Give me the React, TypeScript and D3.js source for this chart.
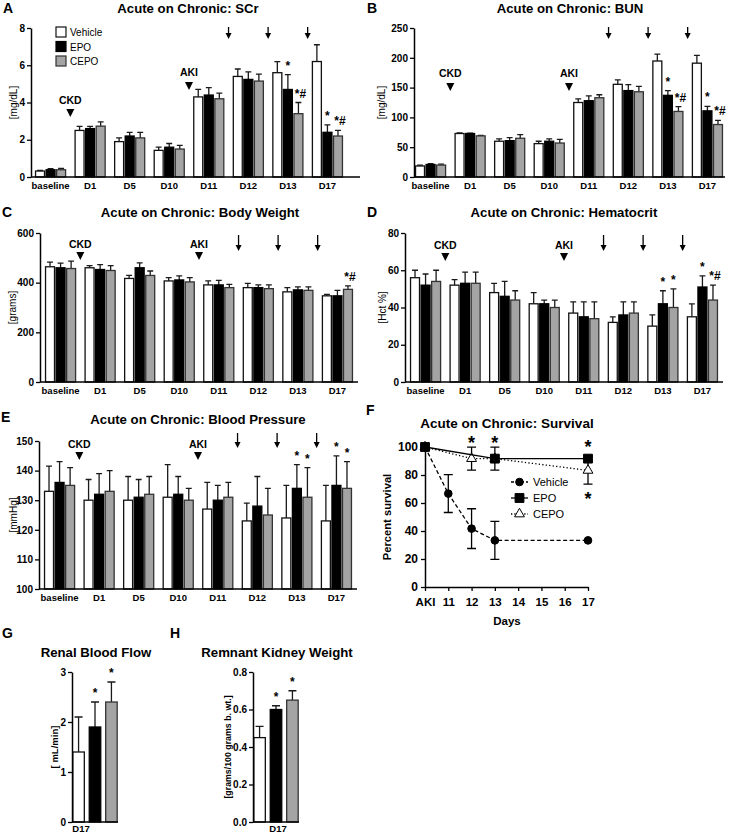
import { useEffect, useRef } from "react";
import * as d3 from "d3";

const FONT = "'Liberation Sans', Arial, Helvetica, sans-serif";

const groups = ["baseline", "D1", "D5", "D10", "D11", "D12", "D13", "D17"];
const treatments = ["Vehicle", "EPO", "CEPO"];
const fills = ["#ffffff", "#000000", "#a4a4a4"];
const strokes = ["#111111", "#000000", "#333333"];

// CKD / AKI markers sit after these group indices, the arrows too
const phaseLabels = ["CKD", "AKI"];
const phaseAfter = [0, 3];
const arrowAfter = [4, 5, 6];

// A: serum creatinine [mg/dL], mean and SEM
const scrVehicle = [0.32, 2.5, 1.9, 1.43, 4.3, 5.4, 5.6, 6.2];
const scrEpo = [0.39, 2.6, 2.2, 1.6, 4.4, 5.24, 4.7, 2.4];
const scrCepo = [0.39, 2.73, 2.1, 1.5, 4.2, 5.15, 3.4, 2.2];
const scrVehicleSem = [0.04, 0.22, 0.2, 0.17, 0.4, 0.4, 0.6, 0.9];
const scrEpoSem = [0.06, 0.12, 0.2, 0.2, 0.4, 0.4, 0.8, 0.4];
const scrCepoSem = [0.07, 0.23, 0.3, 0.2, 0.3, 0.37, 0.6, 0.3];
const scrTicks = [0, 2, 4, 6, 8];
const scrMarks = [["D13", "EPO", "*"], ["D13", "CEPO", "*#"], ["D17", "EPO", "*"], ["D17", "CEPO", "*#"]];

// B: BUN [mg/dL]
const bunVehicle = [18.5, 73, 60, 56, 125, 155.5, 194.6, 191];
const bunEpo = [21, 73, 61, 60, 128, 145, 137, 111];
const bunCepo = [20, 69, 65, 57, 133, 143, 110, 88];
const bunVehicleSem = [1.5, 1, 4, 4, 6, 7.5, 11.5, 13];
const bunEpoSem = [1.5, 0.5, 5, 4, 8, 10, 8, 7.6];
const bunCepoSem = [1.5, 1, 6, 6, 5, 9, 8, 7];
const bunTicks = [0, 50, 100, 150, 200, 250];
const bunMarks = [["D13", "EPO", "*"], ["D13", "CEPO", "*#"], ["D17", "EPO", "*"], ["D17", "CEPO", "*#"]];

// C: body weight [grams]
const bwVehicle = [464, 460, 417, 407, 391, 380, 363, 347];
const bwEpo = [460, 453, 460, 411, 391, 380, 371, 347];
const bwCepo = [457, 449, 429, 403, 380, 376, 369, 373];
const bwVehicleSem = [19, 9, 12, 13, 16, 17, 17, 6];
const bwEpoSem = [19, 20, 20, 16, 18, 11, 12, 22];
const bwCepoSem = [30, 20, 18, 17, 13, 15, 14, 14];
const bwTicks = [0, 200, 400, 600];
const bwMarks = [["D17", "CEPO", "*#"]];

// D: hematocrit [Hct %]
const hctVehicle = [56, 52, 48, 42, 37, 32, 30, 35];
const hctEpo = [52, 53, 46, 42, 35, 36, 42, 51];
const hctCepo = [54, 53, 44, 40, 34, 37, 40, 44];
const hctVehicleSem = [4, 3, 5, 6, 6, 3, 6, 7];
const hctEpoSem = [6, 6, 8, 2, 8, 7, 7, 6];
const hctCepoSem = [6, 6, 5, 4, 9, 6, 10, 8];
const hctTicks = [0, 20, 40, 60, 80];
const hctMarks = [["D13", "EPO", "*"], ["D13", "CEPO", "*"], ["D17", "EPO", "*"], ["D17", "CEPO", "*#"]];

// E: blood pressure [mmHg]
const bpVehicle = [133, 130, 130, 131, 127, 123, 124, 123];
const bpEpo = [136, 132, 131, 132, 130, 128, 134, 135];
const bpCepo = [135, 133, 132, 130, 131, 125, 131, 134];
const bpVehicleSem = [8.5, 7, 8, 11, 9, 6, 11, 12];
const bpEpoSem = [7, 7, 6, 6, 5, 10, 8, 10];
const bpCepoSem = [6, 7, 6, 4, 5, 9, 10, 9];
const bpTicks = [100, 110, 120, 130, 140, 150];
const bpMarks = [["D13", "EPO", "*"], ["D13", "CEPO", "*"], ["D17", "EPO", "*"], ["D17", "CEPO", "*"]];

// F: survival [%]
const survVehicleDay = [10, 11, 12, 13, 17];
const survVehicle = [100, 66.7, 41.7, 33.3, 33.3];
const survVehicleSem = [0, 13.5, 14.2, 13.6, 0];
const survEpoDay = [10, 13, 17];
const survEpo = [100, 91.7, 91.7];
const survEpoSem = [0, 8.2, 0];
const survCepoDay = [10, 12, 13, 17];
const survCepo = [100, 91.7, 91.7, 83.3];
const survCepoSem = [0, 8.2, 0, 9.8];
const survDayTicks = [10, 11, 12, 13, 14, 15, 16, 17];
const survTicks = [0, 20, 40, 60, 80, 100];
const survStarDay = [12, 13, 17, 17];
const survStarLevel = [106, 106, 103, 66];

// G, H: day 17 only
const rbf = [1.4, 1.9, 2.4];
const rbfSem = [0.7, 0.5, 0.4];
const rbfTicks = [0, 1, 2, 3];
const rkw = [0.45, 0.6, 0.65];
const rkwSem = [0.06, 0.02, 0.05];
const rkwTicks = [0, 0.2, 0.4, 0.6, 0.8];
const d17Marks = ["EPO", "CEPO"];

interface BarPanel {
  letter: string;
  letterPos: [number, number];
  title: string;
  titlePos: [number, number];
  yLabel: string;
  yLabelX: number;
  x0: number;
  axisEnd: number;
  band: [number, number];
  yTop: number;
  yBottom: number;
  domain: [number, number];
  ticks: number[];
  means: number[][];
  sems: number[][];
  marks: string[][];
  phaseTextY: number[];
  phaseTriY: number[];
  arrowY: [number, number];
  legend?: [number, number];
}

const barPanels: BarPanel[] = [
  {
    letter: "A", letterPos: [3, 13], title: "Acute on Chronic: SCr", titlePos: [188, 13],
    yLabel: "[mg/dL]", yLabelX: 17, x0: 31, axisEnd: 360, band: [30, 348], yTop: 28, yBottom: 177,
    domain: [0, 8], ticks: scrTicks,
    means: [scrVehicle, scrEpo, scrCepo], sems: [scrVehicleSem, scrEpoSem, scrCepoSem],
    marks: scrMarks, phaseTextY: [104, 76], phaseTriY: [109, 82], arrowY: [27, 38], legend: [56, 27],
  },
  {
    letter: "B", letterPos: [367, 13], title: "Acute on Chronic: BUN", titlePos: [570, 13],
    yLabel: "[mg/dL]", yLabelX: 385, x0: 414, axisEnd: 725, band: [410, 728], yTop: 28, yBottom: 177,
    domain: [0, 250], ticks: bunTicks,
    means: [bunVehicle, bunEpo, bunCepo], sems: [bunVehicleSem, bunEpoSem, bunCepoSem],
    marks: bunMarks, phaseTextY: [77, 77], phaseTriY: [83, 83], arrowY: [27, 38],
  },
  {
    letter: "C", letterPos: [2, 217], title: "Acute on Chronic: Body Weight", titlePos: [200, 217],
    yLabel: "[grams]", yLabelX: 16, x0: 40, axisEnd: 358, band: [40, 358], yTop: 233, yBottom: 382,
    domain: [0, 600], ticks: bwTicks,
    means: [bwVehicle, bwEpo, bwCepo], sems: [bwVehicleSem, bwEpoSem, bwCepoSem],
    marks: bwMarks, phaseTextY: [248, 248], phaseTriY: [252, 252], arrowY: [235, 250],
  },
  {
    letter: "D", letterPos: [367, 217], title: "Acute on Chronic: Hematocrit", titlePos: [564, 217],
    yLabel: "[Hct %]", yLabelX: 386, x0: 405, axisEnd: 723, band: [405, 723], yTop: 233, yBottom: 382,
    domain: [0, 80], ticks: hctTicks,
    means: [hctVehicle, hctEpo, hctCepo], sems: [hctVehicleSem, hctEpoSem, hctCepoSem],
    marks: hctMarks, phaseTextY: [249, 249], phaseTriY: [253, 253], arrowY: [235, 250],
  },
  {
    letter: "E", letterPos: [1, 422], title: "Acute on Chronic: Blood Pressure", titlePos: [198, 424],
    yLabel: "[mmHg]", yLabelX: 17, x0: 39, axisEnd: 357, band: [39, 357], yTop: 441, yBottom: 589,
    domain: [100, 150], ticks: bpTicks,
    means: [bpVehicle, bpEpo, bpCepo], sems: [bpVehicleSem, bpEpoSem, bpCepoSem],
    marks: bpMarks, phaseTextY: [448, 448], phaseTriY: [452, 452], arrowY: [433, 447],
  },
];

function text(g: any, x: number, y: number, s: string, size: number, weight = "bold", anchor = "middle") {
  return g
    .append("text")
    .attr("x", x)
    .attr("y", y)
    .attr("font-size", size)
    .attr("font-weight", weight)
    .attr("text-anchor", anchor)
    .attr("fill", "#000")
    .text(s);
}

function styleAxis(a: any, size: number) {
  a.attr("font-family", FONT).attr("font-size", size).attr("font-weight", "bold");
  a.select(".domain").attr("stroke", "#000").attr("stroke-width", 1.5);
  a.selectAll(".tick line").attr("stroke", "#000").attr("stroke-width", 1.3);
  a.selectAll(".tick text").attr("fill", "#000");
}

function drawBarPanel(svg: any, p: BarPanel) {
  const g = svg.append("g");
  const x = d3.scaleBand<string>().domain(groups).range(p.band).paddingInner(0.24).paddingOuter(0.14);
  const xs = d3.scaleBand<string>().domain(treatments).range([0, x.bandwidth()]).paddingInner(0.15);
  const y = d3.scaleLinear().domain(p.domain).range([p.yBottom, p.yTop]);
  const base = y(p.domain[0]);

  const rows = groups.flatMap((grp, i) =>
    treatments.map((t, j) => ({ grp, t, j, v: p.means[j][i], e: p.sems[j][i] }))
  );
  const left = (d: any) => (x(d.grp) || 0) + (xs(d.t) || 0);
  const mid = (d: any) => left(d) + xs.bandwidth() / 2;

  // upper error bars
  g.selectAll(".err")
    .data(rows)
    .enter()
    .append("path")
    .attr("class", "err")
    .attr("d", (d: any) => {
      const c = mid(d);
      const top = y(d.v + d.e);
      const hw = xs.bandwidth() * 0.33;
      return `M${c},${y(d.v)}V${top}M${c - hw},${top}H${c + hw}`;
    })
    .attr("fill", "none")
    .attr("stroke", "#1a1a1a")
    .attr("stroke-width", 1.3);

  g.selectAll(".bar")
    .data(rows)
    .enter()
    .append("rect")
    .attr("class", "bar")
    .attr("x", (d: any) => left(d))
    .attr("y", (d: any) => y(d.v))
    .attr("width", xs.bandwidth())
    .attr("height", (d: any) => base - y(d.v))
    .attr("fill", (d: any) => fills[d.j])
    .attr("stroke", (d: any) => strokes[d.j])
    .attr("stroke-width", 1.3);

  // significance marks
  p.marks.forEach(([grp, t, s]) => {
    const i = groups.indexOf(grp);
    const j = treatments.indexOf(t);
    const d = { grp, t, j, v: p.means[j][i], e: p.sems[j][i] };
    text(g, mid(d) + (s.length > 1 ? 2 : 0), y(d.v + d.e) - 5, s, 12);
  });

  // axes
  const yAxis = g
    .append("g")
    .attr("transform", `translate(${p.x0},0)`)
    .call(d3.axisLeft(y).tickValues(p.ticks).tickSize(4).tickSizeOuter(0).tickPadding(2).tickFormat(d3.format("d")));
  styleAxis(yAxis, 10);

  const xAxis = g
    .append("g")
    .attr("transform", `translate(0,${p.yBottom})`)
    .call(d3.axisBottom(x).tickSize(0).tickPadding(5));
  styleAxis(xAxis, 9.5);
  xAxis.select(".domain").remove();
  g.append("line")
    .attr("x1", p.x0)
    .attr("x2", p.axisEnd)
    .attr("y1", p.yBottom)
    .attr("y2", p.yBottom)
    .attr("stroke", "#000")
    .attr("stroke-width", 1.5);

  // CKD / AKI markers and arrows
  const between = (i: number) => ((x(groups[i]) || 0) + x.bandwidth() + (x(groups[i + 1]) || 0)) / 2;
  phaseLabels.forEach((lab, k) => {
    const ax = between(phaseAfter[k]);
    text(g, ax, p.phaseTextY[k], lab, 10.5);
    g.append("path").attr("d", `M${ax - 4},${p.phaseTriY[k]}h8l-4,8z`).attr("fill", "#000");
  });
  arrowAfter.forEach((i) => {
    const ax = between(i);
    g.append("path")
      .attr("d", `M${ax},${p.arrowY[0]}V${p.arrowY[1] - 4}`)
      .attr("stroke", "#000")
      .attr("stroke-width", 1.3);
    g.append("path").attr("d", `M${ax - 3},${p.arrowY[1] - 5}h6l-3,6z`).attr("fill", "#000");
  });

  // labels
  text(g, p.letterPos[0], p.letterPos[1], p.letter, 14, "bold", "start");
  text(g, p.titlePos[0], p.titlePos[1], p.title, 13.2);
  text(g, 0, 0, p.yLabel, 10, "normal").attr(
    "transform",
    `translate(${p.yLabelX},${(p.yTop + p.yBottom) / 2}) rotate(-90)`
  );

  if (p.legend) {
    const [lx, ly] = p.legend;
    treatments.forEach((t, j) => {
      g.append("rect")
        .attr("x", lx)
        .attr("y", ly + j * 14.5)
        .attr("width", 10)
        .attr("height", 10)
        .attr("fill", fills[j])
        .attr("stroke", strokes[j])
        .attr("stroke-width", 1.2);
      text(g, lx + 14, ly + 9 + j * 14.5, t, 10, "normal", "start");
    });
  }
}

function drawSurvival(svg: any) {
  const g = svg.append("g");
  const x = d3.scaleLinear().domain([10, 17]).range([425, 588]);
  const y = d3.scaleLinear().domain([0, 100]).range([587, 447]);

  const series = [
    { days: survCepoDay, vals: survCepo, sem: survCepoSem, dash: "1.3,2.2", sym: d3.symbolTriangle, size: 42, open: true },
    { days: survEpoDay, vals: survEpo, sem: survEpoSem, dash: null, sym: d3.symbolSquare, size: 78, open: false },
    { days: survVehicleDay, vals: survVehicle, sem: survVehicleSem, dash: "4,2.5", sym: d3.symbolCircle, size: 46, open: false },
  ];

  series.forEach((s) => {
    const pts = s.days.map((d, i) => [d, s.vals[i], s.sem[i]]);
    const line = d3
      .line<number[]>()
      .x((d) => x(d[0]))
      .y((d) => y(d[1]));
    g.append("path")
      .attr("d", line(pts))
      .attr("fill", "none")
      .attr("stroke", "#000")
      .attr("stroke-width", 1.3)
      .attr("stroke-dasharray", s.dash);
    pts
      .filter((d) => d[2] > 0)
      .forEach((d) => {
        const cx = x(d[0]);
        const t = y(d[1] + d[2]);
        const b = y(d[1] - d[2]);
        g.append("path")
          .attr("d", `M${cx},${t}V${b}M${cx - 4.5},${t}H${cx + 4.5}M${cx - 4.5},${b}H${cx + 4.5}`)
          .attr("stroke", "#000")
          .attr("stroke-width", 1.3);
      });
    g.selectAll(null)
      .data(pts)
      .enter()
      .append("path")
      .attr("transform", (d: number[]) => `translate(${x(d[0])},${y(d[1])})`)
      .attr("d", d3.symbol(s.sym, s.size)())
      .attr("fill", s.open ? "#fff" : "#000")
      .attr("stroke", "#000")
      .attr("stroke-width", 1);
  });

  survStarDay.forEach((d, i) => {
    text(g, x(d), y(survStarLevel[i]) + 10, "*", 18);
  });

  const yAxis = g
    .append("g")
    .attr("transform", "translate(425,0)")
    .call(d3.axisLeft(y).tickValues(survTicks).tickSize(4).tickSizeOuter(0).tickPadding(3));
  styleAxis(yAxis, 12);
  const xAxis = g
    .append("g")
    .attr("transform", "translate(0,587)")
    .call(
      d3
        .axisBottom(x)
        .tickValues(survDayTicks)
        .tickSize(4)
        .tickSizeOuter(0)
        .tickPadding(7)
        .tickFormat((d: any) => (d === 10 ? "AKI" : String(d)))
    );
  styleAxis(xAxis, 11.5);

  // legend
  const legend = [
    { name: "Vehicle", dash: "3,2", sym: d3.symbolCircle, size: 46, open: false },
    { name: "EPO", dash: null, sym: d3.symbolSquare, size: 78, open: false },
    { name: "CEPO", dash: "1.3,2", sym: d3.symbolTriangle, size: 42, open: true },
  ];
  legend.forEach((l, i) => {
    const ly = 482 + i * 16;
    g.append("path")
      .attr("d", `M511,${ly}H528`)
      .attr("stroke", "#000")
      .attr("stroke-width", 1.3)
      .attr("stroke-dasharray", l.dash);
    g.append("path")
      .attr("transform", `translate(519.5,${ly})`)
      .attr("d", d3.symbol(l.sym, l.size)())
      .attr("fill", l.open ? "#fff" : "#000")
      .attr("stroke", "#000")
      .attr("stroke-width", 1);
    text(g, 533, ly + 4, l.name, 11, "normal", "start");
  });

  text(g, 366, 415, "F", 14, "bold", "start");
  text(g, 507, 428, "Acute on Chronic: Survival", 13.5);
  text(g, 0, 0, "Percent survival", 11.2).attr("transform", "translate(391,517) rotate(-90)");
  text(g, 507, 625, "Days", 11.5);
}

interface SmallPanel {
  letter: string;
  letterX: number;
  title: string;
  titleX: number;
  yLabel: string;
  yLabelX: number;
  yLabelSize: number;
  x0: number;
  domain: [number, number];
  ticks: number[];
  fmt: string;
  vals: number[];
  sem: number[];
  labelX: number;
}

const smallPanels: SmallPanel[] = [
  {
    letter: "G", letterX: 2, title: "Renal Blood Flow", titleX: 96, yLabel: "[ mL/min]", yLabelX: 58, yLabelSize: 9.5,
    x0: 72, domain: [0, 3], ticks: rbfTicks, fmt: "d", vals: rbf, sem: rbfSem, labelX: 81,
  },
  {
    letter: "H", letterX: 170, title: "Remnant Kidney Weight", titleX: 277, yLabel: "[grams/100 grams b. wt.]",
    yLabelX: 231, yLabelSize: 8.8, x0: 253, domain: [0, 0.8], ticks: rkwTicks, fmt: ".1f", vals: rkw, sem: rkwSem,
    labelX: 278,
  },
];

function drawSmallPanel(svg: any, p: SmallPanel) {
  const g = svg.append("g");
  const x = d3.scaleBand<string>().domain(treatments).range([p.x0, p.x0 + 46]).paddingInner(0.3).paddingOuter(0.05);
  const y = d3.scaleLinear().domain(p.domain).range([822, 672]);
  const rows = treatments.map((t, j) => ({ t, j, v: p.vals[j], e: p.sem[j] }));
  const mid = (d: any) => (x(d.t) || 0) + x.bandwidth() / 2;

  g.selectAll(".err")
    .data(rows)
    .enter()
    .append("path")
    .attr("d", (d: any) => {
      const c = mid(d);
      const top = y(d.v + d.e);
      return `M${c},${y(d.v)}V${top}M${c - 4},${top}H${c + 4}`;
    })
    .attr("stroke", "#1a1a1a")
    .attr("stroke-width", 1.3);

  g.selectAll(".bar")
    .data(rows)
    .enter()
    .append("rect")
    .attr("x", (d: any) => x(d.t) || 0)
    .attr("y", (d: any) => y(d.v))
    .attr("width", x.bandwidth())
    .attr("height", (d: any) => y(0) - y(d.v))
    .attr("fill", (d: any) => fills[d.j])
    .attr("stroke", (d: any) => strokes[d.j])
    .attr("stroke-width", 1.3);

  d17Marks.forEach((t) => {
    const d = rows[treatments.indexOf(t)];
    text(g, mid(d), y(d.v + d.e) - 5, "*", 12);
  });

  const yAxis = g
    .append("g")
    .attr("transform", `translate(${p.x0},0)`)
    .call(d3.axisLeft(y).tickValues(p.ticks).tickSize(4).tickSizeOuter(0).tickPadding(2).tickFormat(d3.format(p.fmt)));
  styleAxis(yAxis, 10);
  g.append("line")
    .attr("x1", p.x0)
    .attr("x2", p.x0 + 46)
    .attr("y1", 822)
    .attr("y2", 822)
    .attr("stroke", "#000")
    .attr("stroke-width", 1.5);
  text(g, p.labelX, 832, "D17", 9.5);

  text(g, p.letterX, 638, p.letter, 14, "bold", "start");
  text(g, p.titleX, 657, p.title, 13.2);
  text(g, 0, 0, p.yLabel, p.yLabelSize).attr("transform", `translate(${p.yLabelX},747) rotate(-90)`);
}

export default function App() {
  const svgRef = useRef<SVGSVGElement | null>(null);

  useEffect(() => {
    const svg = d3.select(svgRef.current);
    svg.selectAll("*").remove();
    barPanels.forEach((p) => drawBarPanel(svg, p));
    drawSurvival(svg);
    smallPanels.forEach((p) => drawSmallPanel(svg, p));
  }, []);

  return (
    <svg
      ref={svgRef}
      width={731}
      height={835}
      fontFamily={FONT}
      style={{ position: "absolute", left: 0, top: 0, background: "#fff" }}
    />
  );
}
